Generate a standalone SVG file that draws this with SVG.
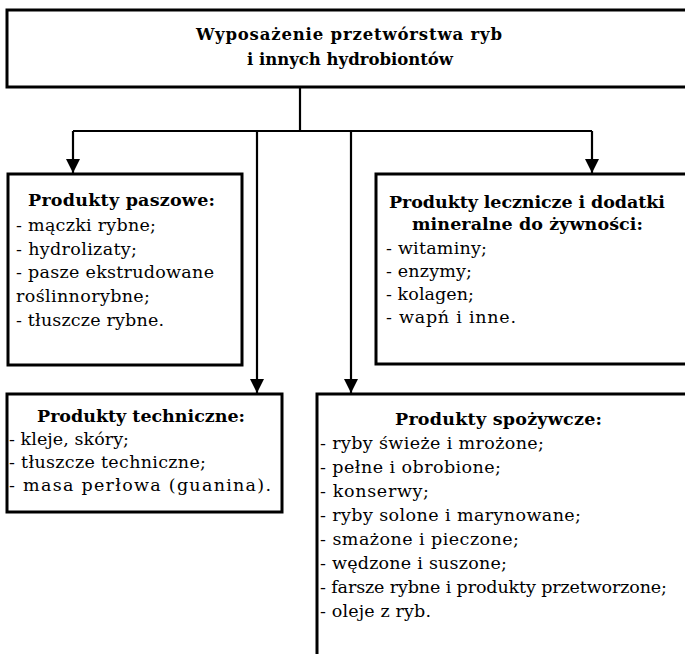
<svg xmlns="http://www.w3.org/2000/svg" width="685" height="654" viewBox="0 0 685 654">
<style>
.box{fill:#fff;stroke:#000;stroke-width:3}
.con{fill:none;stroke:#000;stroke-width:2.2}
text{font-family:"DejaVu Serif","Liberation Serif",serif;font-size:17.5px;fill:#000}
.t{font-weight:bold;font-size:16.5px}
.h{font-weight:bold;font-size:17.5px}
</style>
<defs>
<marker id="ah" markerUnits="userSpaceOnUse" markerWidth="14" markerHeight="14" refX="14" refY="7" orient="auto" viewBox="0 0 14 14">
<path d="M0,0 L14,7 L0,14 z" fill="#000"/>
</marker>
</defs>
<g id="connectors">
<path class="con" d="M300 88 V131"/>
<path class="con" d="M73 131 H592"/>
<path class="con" d="M73 131 V173" marker-end="url(#ah)"/>
<path class="con" d="M592 131 V173" marker-end="url(#ah)"/>
<path class="con" d="M257 131 V393" marker-end="url(#ah)"/>
<path class="con" d="M351 131 V393" marker-end="url(#ah)"/>
</g>
<g id="root">
<rect class="box" x="7" y="10" width="700" height="77"/>
<text class="t" x="196" y="40" textLength="306" lengthAdjust="spacing">Wyposażenie przetwórstwa ryb</text>
<text class="t" x="350" y="65" text-anchor="middle">i innych hydrobiontów</text>
</g>
<g id="paszowe">
<rect class="box" x="8" y="174" width="234" height="191"/>
<text class="h" x="28" y="206" textLength="187" lengthAdjust="spacing">Produkty paszowe:</text>
<text x="16" y="231" textLength="140" lengthAdjust="spacing">- mączki rybne;</text>
<text x="16" y="255" textLength="121" lengthAdjust="spacing">- hydrolizaty;</text>
<text x="16" y="278" textLength="198" lengthAdjust="spacing">- pasze ekstrudowane</text>
<text x="16" y="302" textLength="134" lengthAdjust="spacing">roślinnorybne;</text>
<text x="16" y="326" textLength="148" lengthAdjust="spacing">- tłuszcze rybne.</text>
</g>
<g id="lecznicze">
<rect class="box" x="376" y="174" width="330" height="190"/>
<text class="h" x="389" y="208" textLength="276" lengthAdjust="spacing">Produkty lecznicze i dodatki</text>
<text class="h" x="412" y="230" textLength="231" lengthAdjust="spacing">mineralne do żywności:</text>
<text x="386" y="254" textLength="101" lengthAdjust="spacing">- witaminy;</text>
<text x="386" y="277" textLength="86" lengthAdjust="spacing">- enzymy;</text>
<text x="386" y="300" textLength="88" lengthAdjust="spacing">- kolagen;</text>
<text x="386" y="323" textLength="130" lengthAdjust="spacing">- wapń i inne.</text>
</g>
<g id="techniczne">
<rect class="box" x="7" y="394" width="275" height="118"/>
<text class="h" x="37" y="422" textLength="208" lengthAdjust="spacing">Produkty techniczne:</text>
<text x="9" y="445" textLength="120" lengthAdjust="spacing">- kleje, skóry;</text>
<text x="9" y="468" textLength="197" lengthAdjust="spacing">- tłuszcze techniczne;</text>
<text x="9" y="491" textLength="262" lengthAdjust="spacing">- masa perłowa (guanina).</text>
</g>
<g id="spozywcze">
<rect class="box" x="317" y="394" width="400" height="280"/>
<text class="h" x="395" y="425" textLength="207" lengthAdjust="spacing">Produkty spożywcze:</text>
<text x="320" y="449" textLength="224" lengthAdjust="spacing">- ryby świeże i mrożone;</text>
<text x="320" y="473" textLength="181" lengthAdjust="spacing">- pełne i obrobione;</text>
<text x="320" y="497" textLength="109" lengthAdjust="spacing">- konserwy;</text>
<text x="320" y="521" textLength="261" lengthAdjust="spacing">- ryby solone i marynowane;</text>
<text x="320" y="545" textLength="199" lengthAdjust="spacing">- smażone i pieczone;</text>
<text x="320" y="569" textLength="187" lengthAdjust="spacing">- wędzone i suszone;</text>
<text x="320" y="593" textLength="347" lengthAdjust="spacing">- farsze rybne i produkty przetworzone;</text>
<text x="320" y="617" textLength="111" lengthAdjust="spacing">- oleje z ryb.</text>
</g>
</svg>
